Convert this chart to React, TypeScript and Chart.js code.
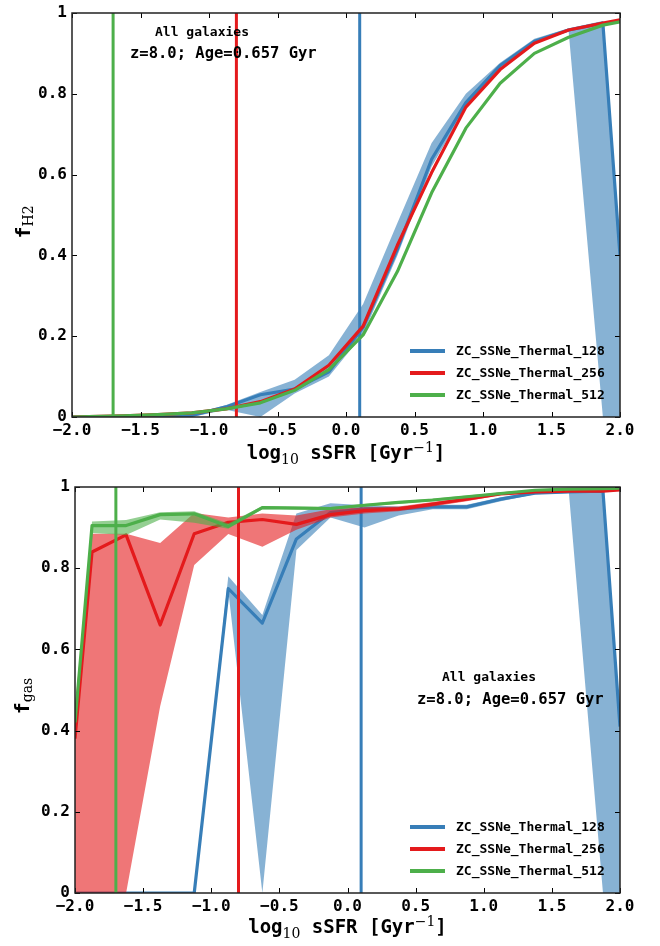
import React, { useEffect, useRef } from "react";
import { Chart, registerables } from "chart.js";
Chart.register(...registerables);

// ---------------- data ----------------
const X_BINS = [-2.0, -1.875, -1.625, -1.375, -1.125, -0.875, -0.625, -0.375, -0.125, 0.125, 0.375, 0.625, 0.875, 1.125, 1.375, 1.625, 1.875, 2.0];
const SIM_LABELS = ["ZC_SSNe_Thermal_128", "ZC_SSNe_Thermal_256", "ZC_SSNe_Thermal_512"];
const SIM_COLORS = ["#377eb8", "#e41a1c", "#4daf4a"];
const SIM_FILLS = ["rgba(55,126,184,0.6)", "rgba(228,26,28,0.6)", "rgba(77,175,74,0.6)"];
const VLINE_X = [0.1, -0.8, -1.7];
const X_TICKS = [-2, -1.5, -1, -0.5, 0, 0.5, 1, 1.5, 2];
const Y_TICKS = [0, 0.2, 0.4, 0.6, 0.8, 1];
const ANNOT_1 = "All galaxies";
const ANNOT_2 = "z=8.0; Age=0.657 Gyr";

// top panel: f_H2
const FH2_128_MED = [0, 0, 0.001, 0.002, 0.004, 0.025, 0.055, 0.069, 0.112, 0.222, 0.415, 0.638, 0.778, 0.87, 0.93, 0.958, 0.975, 0.40];
const FH2_128_LO = [0, 0, 0, 0, 0, 0.018, 0, 0.058, 0.10, 0.205, 0.40, 0.62, 0.765, 0.86, 0.925, 0.955, 0, 0];
const FH2_128_HI = [0, 0, 0.002, 0.003, 0.006, 0.03, 0.062, 0.092, 0.153, 0.28, 0.48, 0.678, 0.80, 0.877, 0.936, 0.962, 0.98, 0.42];
const FH2_256_MED = [0, 0.001, 0.003, 0.006, 0.01, 0.02, 0.038, 0.069, 0.128, 0.225, 0.425, 0.605, 0.767, 0.86, 0.925, 0.958, 0.975, 0.983];
const FH2_512_MED = [0, 0.001, 0.003, 0.006, 0.01, 0.02, 0.035, 0.066, 0.117, 0.203, 0.36, 0.555, 0.715, 0.826, 0.9, 0.94, 0.97, 0.978];

// bottom panel: f_gas
const FGAS_128_MED = [0, 0, 0, 0, 0, 0.75, 0.665, 0.872, 0.937, 0.946, 0.946, 0.951, 0.951, 0.97, 0.985, 0.988, 0.99, 0.41];
const FGAS_128_LO = [0, 0, 0, 0, 0, 0.745, 0, 0.845, 0.925, 0.90, 0.93, 0.945, 0.945, 0.965, 0.982, 0.985, 0, 0];
const FGAS_128_HI = [0, 0, 0, 0, 0, 0.78, 0.685, 0.935, 0.96, 0.955, 0.952, 0.956, 0.956, 0.975, 0.988, 0.99, 0.995, 0.43];
const FGAS_256_MED = [0.38, 0.84, 0.882, 0.66, 0.885, 0.913, 0.92, 0.908, 0.932, 0.942, 0.946, 0.958, 0.97, 0.983, 0.988, 0.99, 0.99, 0.993];
const FGAS_256_LO = [0, 0, 0, 0.46, 0.808, 0.884, 0.853, 0.895, 0.925, 0.935, 0.94, 0.952, 0.965, 0.98, 0.985, 0.988, 0.988, 0.99];
const FGAS_256_HI = [0.46, 0.885, 0.885, 0.862, 0.936, 0.925, 0.935, 0.93, 0.945, 0.95, 0.952, 0.963, 0.975, 0.986, 0.99, 0.992, 0.993, 0.996];
const FGAS_512_MED = [0.42, 0.905, 0.905, 0.932, 0.934, 0.903, 0.949, 0.948, 0.947, 0.955, 0.962, 0.968, 0.976, 0.984, 0.992, 0.995, 0.996, 0.997];
const FGAS_512_LO = [0.41, 0.887, 0.882, 0.92, 0.912, 0.897, 0.945, 0.945, 0.944, 0.952, 0.959, 0.965, 0.973, 0.982, 0.99, 0.993, 0.994, 0.995];
const FGAS_512_HI = [0.43, 0.915, 0.919, 0.938, 0.94, 0.91, 0.953, 0.952, 0.951, 0.958, 0.965, 0.971, 0.979, 0.987, 0.994, 0.997, 0.998, 0.999];

const MONO = '"DejaVu Sans Mono", monospace';
const SERIF = '"DejaVu Serif", serif';

type Geom = {
  height: number;
  padTop: number;
  yW: number;
  xH: number;
  sub: string;
  yTitleX: number;
  yTitleDy: number;
  xTitleDy: number;
  a1: [number, number];
  a2: [number, number];
};

const pts = (arr: number[]) => arr.map((v, i) => ({ x: X_BINS[i], y: v }));

const decorPlugin = {
  id: "decor",
  afterDraw(chart: any, _args: any, opts: any) {
    const { ctx, chartArea: ca, scales } = chart;
    const x = scales.x;
    const y = scales.y;
    const g: Geom = opts.geom;
    ctx.save();
    // inward ticks on all four sides
    ctx.strokeStyle = "#000";
    ctx.lineWidth = 1;
    ctx.beginPath();
    for (const v of X_TICKS) {
      const px = Math.round(x.getPixelForValue(v)) + 0.5;
      ctx.moveTo(px, ca.top);
      ctx.lineTo(px, ca.top + 5);
      ctx.moveTo(px, ca.bottom);
      ctx.lineTo(px, ca.bottom - 5);
    }
    for (const v of Y_TICKS) {
      const py = Math.round(y.getPixelForValue(v)) + 0.5;
      ctx.moveTo(ca.left, py);
      ctx.lineTo(ca.left + 5, py);
      ctx.moveTo(ca.right, py);
      ctx.lineTo(ca.right - 5, py);
    }
    ctx.stroke();
    // frame
    ctx.strokeStyle = "#222";
    ctx.lineWidth = 1.5;
    ctx.strokeRect(ca.left, ca.top, ca.right - ca.left, ca.bottom - ca.top);

    // legend (bottom right, inside)
    const lx = ca.right - 210;
    for (let i = 0; i < 3; i++) {
      const ly = ca.bottom - 66 + i * 22;
      ctx.strokeStyle = SIM_COLORS[i];
      ctx.lineWidth = 4;
      ctx.lineCap = "butt";
      ctx.beginPath();
      ctx.moveTo(lx, ly);
      ctx.lineTo(lx + 35, ly);
      ctx.stroke();
      ctx.fillStyle = "#000";
      ctx.font = `bold 13px ${MONO}`;
      ctx.textAlign = "left";
      ctx.textBaseline = "middle";
      ctx.fillText(SIM_LABELS[i], lx + 46, ly + 1);
    }

    // annotations
    ctx.fillStyle = "#000";
    ctx.textBaseline = "middle";
    ctx.font = `bold 13px ${MONO}`;
    ctx.textAlign = "center";
    ctx.fillText(ANNOT_1, g.a1[0], g.a1[1]);
    ctx.font = `bold 15.5px ${MONO}`;
    ctx.textAlign = "left";
    ctx.fillText(ANNOT_2, g.a2[0], g.a2[1]);

    // x title: log10 sSFR [Gyr^-1]
    const big = `bold 19px ${MONO}`;
    const small = `14px ${SERIF}`;
    const parts: [string, string, number][] = [
      ["log", big, 0],
      ["10", small, 5],
      [" sSFR [Gyr", big, 0],
      ["\u22121", small, -7],
      ["]", big, 0],
    ];
    ctx.textBaseline = "alphabetic";
    ctx.textAlign = "left";
    let total = 0;
    for (const [t, f] of parts) {
      ctx.font = f;
      total += ctx.measureText(t).width;
    }
    let cx = (ca.left + ca.right) / 2 - total / 2;
    const base = ca.bottom + g.xTitleDy;
    for (const [t, f, dy] of parts) {
      ctx.font = f;
      ctx.fillText(t, cx, base + dy);
      cx += ctx.measureText(t).width;
    }

    // y title: f_sub (rotated)
    const yparts: [string, string, number][] = [
      ["f", `bold 20px ${MONO}`, 0],
      [g.sub, `14px ${SERIF}`, 3],
    ];
    let ytot = 0;
    for (const [t, f] of yparts) {
      ctx.font = f;
      ytot += ctx.measureText(t).width;
    }
    ctx.translate(g.yTitleX, (ca.top + ca.bottom) / 2 + g.yTitleDy);
    ctx.rotate(-Math.PI / 2);
    let tx = -ytot / 2;
    for (const [t, f, dy] of yparts) {
      ctx.font = f;
      ctx.fillText(t, tx, dy);
      tx += ctx.measureText(t).width;
    }
    ctx.restore();
  },
};

function buildDatasets(med: number[][], lo: (number[] | null)[], hi: (number[] | null)[]) {
  const ds: any[] = [];
  for (let i = 0; i < 3; i++) {
    if (lo[i] && hi[i]) {
      ds.push({
        data: pts(lo[i] as number[]),
        borderWidth: 0,
        pointRadius: 0,
        fill: false,
        borderColor: "rgba(0,0,0,0)",
        tension: 0,
      });
      ds.push({
        data: pts(hi[i] as number[]),
        borderWidth: 0,
        pointRadius: 0,
        fill: "-1",
        backgroundColor: SIM_FILLS[i],
        borderColor: "rgba(0,0,0,0)",
        tension: 0,
      });
    }
    ds.push({
      label: SIM_LABELS[i],
      data: pts(med[i]),
      borderColor: SIM_COLORS[i],
      borderWidth: 3.2,
      pointRadius: 0,
      fill: false,
      tension: 0,
      borderJoinStyle: "round",
    });
    ds.push({
      data: [
        { x: VLINE_X[i], y: 0 },
        { x: VLINE_X[i], y: 1 },
      ],
      borderColor: SIM_COLORS[i],
      borderWidth: 3,
      pointRadius: 0,
      fill: false,
    });
  }
  const n = ds.length;
  ds.forEach((d, i) => (d.order = n - i));
  return ds;
}

function Panel({ med, lo, hi, geom }: { med: number[][]; lo: (number[] | null)[]; hi: (number[] | null)[]; geom: Geom }) {
  const ref = useRef<HTMLCanvasElement | null>(null);
  useEffect(() => {
    if (!ref.current) return;
    const tickFont = { family: MONO, size: 16, weight: "bold" as const };
    const chart = new Chart(ref.current, {
      type: "line",
      data: { datasets: buildDatasets(med, lo, hi) },
      options: {
        animation: false,
        responsive: false,
        maintainAspectRatio: false,
        layout: { padding: { top: geom.padTop, right: 40, left: 0, bottom: 0 } },
        plugins: {
          legend: { display: false },
          tooltip: { enabled: false },
          decor: { geom },
        } as any,
        scales: {
          x: {
            type: "linear",
            min: -2,
            max: 2,
            grid: { display: false, drawTicks: false },
            border: { display: false },
            ticks: {
              stepSize: 0.5,
              autoSkip: false,
              maxRotation: 0,
              padding: 4,
              color: "#000",
              font: tickFont,
              callback: (v: any) => Number(v).toFixed(1).replace("-", "\u2212"),
            },
            afterFit: (s: any) => {
              s.height = geom.xH;
              s.paddingLeft = 0;
              s.paddingRight = 0;
            },
          },
          y: {
            min: 0,
            max: 1,
            grid: { display: false, drawTicks: false },
            border: { display: false },
            ticks: {
              stepSize: 0.2,
              padding: 5,
              color: "#000",
              font: tickFont,
              callback: (v: any) => String(Math.round(Number(v) * 10) / 10),
            },
            afterFit: (s: any) => {
              s.width = geom.yW;
              s.paddingTop = 0;
              s.paddingBottom = 0;
            },
          },
        },
      } as any,
      plugins: [decorPlugin],
    });
    return () => chart.destroy();
  }, []);
  return <canvas ref={ref} width={660} height={geom.height} style={{ display: "block", width: 660, height: geom.height }} />;
}

const TOP_GEOM: Geom = {
  height: 473,
  padTop: 13,
  yW: 72,
  xH: 56,
  sub: "H2",
  yTitleX: 30,
  yTitleDy: 7,
  xTitleDy: 42,
  a1: [202, 33],
  a2: [130, 54],
};

const BOTTOM_GEOM: Geom = {
  height: 473,
  padTop: 14,
  yW: 75,
  xH: 53,
  sub: "gas",
  yTitleX: 29,
  yTitleDy: 6,
  xTitleDy: 40,
  a1: [489, 205],
  a2: [417, 227],
};

export default function App() {
  return (
    <div style={{ position: "absolute", left: 0, top: 0, width: 660, height: 946, background: "#fff" }}>
      <Panel
        med={[FH2_128_MED, FH2_256_MED, FH2_512_MED]}
        lo={[FH2_128_LO, null, null]}
        hi={[FH2_128_HI, null, null]}
        geom={TOP_GEOM}
      />
      <Panel
        med={[FGAS_128_MED, FGAS_256_MED, FGAS_512_MED]}
        lo={[FGAS_128_LO, FGAS_256_LO, FGAS_512_LO]}
        hi={[FGAS_128_HI, FGAS_256_HI, FGAS_512_HI]}
        geom={BOTTOM_GEOM}
      />
    </div>
  );
}
